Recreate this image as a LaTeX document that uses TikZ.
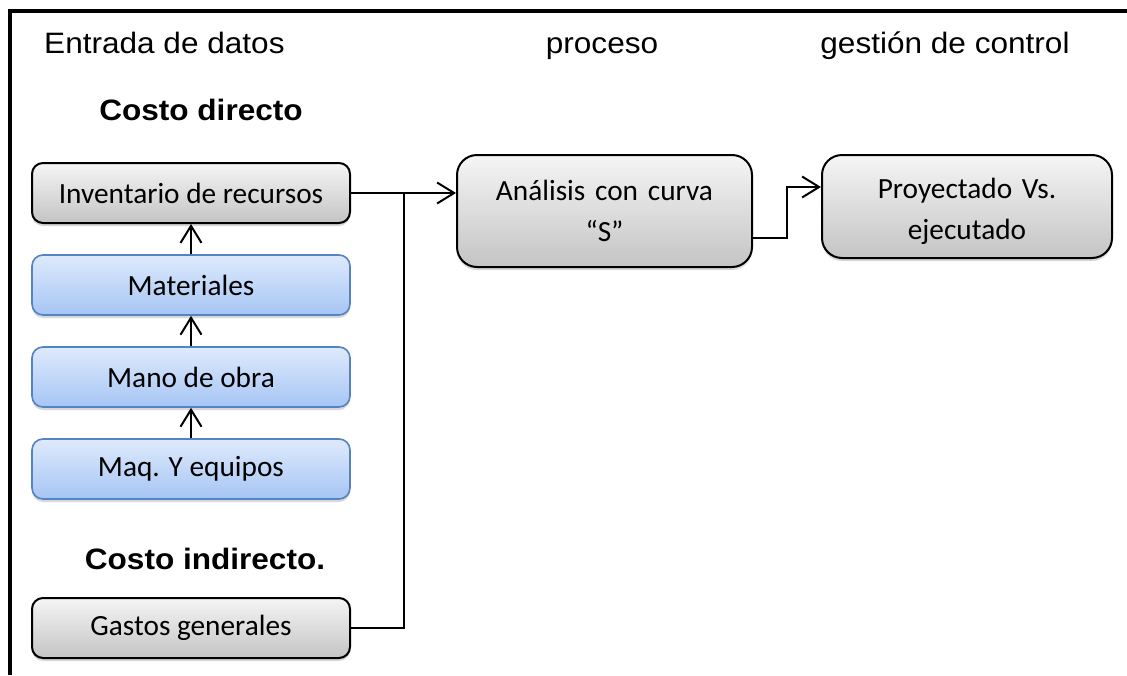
\documentclass[tikz,border=0pt]{standalone}
\usepackage{fontspec}
\setmainfont{Carlito}
\newfontfamily\hfont{Liberation Sans}[FakeStretch=1.07]
\usetikzlibrary{arrows.meta,shadows}
\definecolor{grayT}{HTML}{F5F5F5}
\definecolor{grayB}{HTML}{C4C4C4}
\definecolor{blueT}{HTML}{DEEAFC}
\definecolor{blueB}{HTML}{A6C5F4}
\definecolor{blueD}{HTML}{5383C3}
\begin{document}
\begin{tikzpicture}[x=1pt,y=-1pt,
  boxfont/.style={font=\fontsize{29.3}{41}\selectfont},
  hdr/.style={font=\hfont\fontsize{29.5}{35}\selectfont, inner sep=0pt},
  hdrb/.style={font=\hfont\bfseries\fontsize{29.5}{35}\selectfont, inner sep=0pt},
  basebox/.style={boxfont, inner sep=0pt, align=center,
    drop shadow={shadow xshift=0pt, shadow yshift=-3pt, opacity=0.3}},
  graybox/.style={basebox, draw=black, line width=2pt, rounded corners=11pt,
    top color=grayT, bottom color=grayB},
  bluebox/.style={basebox, draw=blueD, line width=1.6pt, rounded corners=11pt,
    top color=blueT, bottom color=blueB},
  bigbox/.style={graybox, rounded corners=20pt},
  conn/.style={line width=2pt, draw=black},
  arr/.style={conn, -{Straight Barb[length=17pt,width=21pt,line width=2pt]}},
]
\useasboundingbox (0,0) rectangle (1127,675);
\fill[white] (0,0) rectangle (1127,675);
\draw[line width=4pt] (10,675) -- (10,11) -- (1127,11);

\node[hdr, anchor=base west] (h1) at (44,53) {Entrada de datos};
\node[hdr, anchor=base] (h2) at (602,53) {proceso};
\node[hdr, anchor=base] (h3) at (945,53) {gestión de control};
\node[hdrb, anchor=base] (cd) at (201,120) {Costo directo};
\node[hdrb, anchor=base] (ci) at (205,569) {Costo indirecto.};

\node[graybox, minimum width=318pt, minimum height=60pt] (inv) at (191,193) {Inventario de recursos};
\node[bluebox, minimum width=318pt, minimum height=60pt] (mat) at (191,285) {Materiales};
\node[bluebox, minimum width=318pt, minimum height=60pt] (mano) at (191,377) {Mano de obra};
\node[bluebox, minimum width=318pt, minimum height=60pt] (maq) at (191,469) {Maq. Y equipos};
\node[graybox, minimum width=318pt, minimum height=60pt] (gas) at (191,628) {Gastos generales};

\node[bigbox, minimum width=295pt, minimum height=112pt, text width=280pt] (ana) at (604.5,211) {Análisis con curva\\“S”};
\node[bigbox, minimum width=290pt, minimum height=103pt, text width=275pt] (proy) at (967,206.5) {\rule{0pt}{30.5pt}Proyectado Vs.\\ejecutado};

\draw[arr] (mat.north) -- (inv.south);
\draw[arr] (mano.north) -- (mat.south);
\draw[arr] (maq.north) -- (mano.south);

\draw[arr] (inv.east) -- (inv.east -| ana.west);
\coordinate (jn) at (404,0);
\draw[conn] (gas.east) -| (jn |- inv.east);

\coordinate (p1) at ([yshift=-27pt]ana.east);
\coordinate (p2) at ([yshift=19.5pt]proy.west);
\coordinate (bend) at (787,0);
\draw[arr] (p1) -| (bend |- p2) -- (p2);
\end{tikzpicture}
\end{document}
